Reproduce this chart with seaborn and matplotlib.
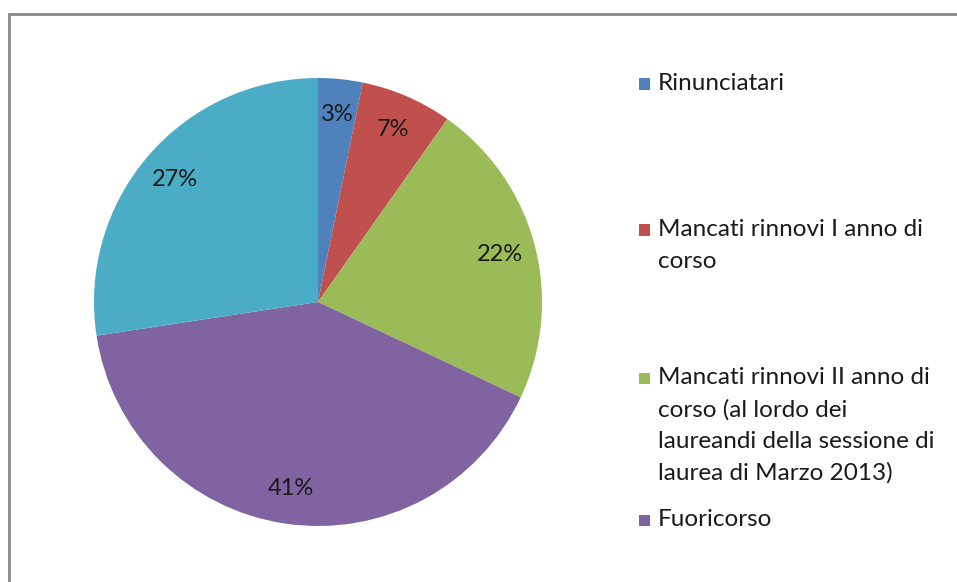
import matplotlib
matplotlib.use("Agg")
import matplotlib.pyplot as plt
import seaborn as sns
from matplotlib.patches import Rectangle
from matplotlib.lines import Line2D

# data (slice shares in %)
categories = [
    "Rinunciatari",
    "Mancati rinnovi I anno di\ncorso",
    "Mancati rinnovi II anno di\ncorso (al lordo dei\nlaureandi della sessione di\nlaurea di Marzo 2013)",
    "Fuoricorso",
    "",
]
values = [3.2, 6.6, 22.2, 40.6, 27.4]
colors = ["#4F81BD", "#C0504D", "#9BBB59", "#8064A2", "#4BACC6"]

sns.set_theme(style="white")
plt.rcParams["font.family"] = ["Lato", "DejaVu Sans"]

W, H = 957, 582
fig = plt.figure(figsize=(W / 100, H / 100), dpi=100)

# pie: centre (318, 302) px, radius 224 px
cx, cy, r = 318, 302, 224
ax = fig.add_axes([(cx - r) / W, (H - cy - r) / H, 2 * r / W, 2 * r / H])
wedges, _, autotexts = ax.pie(
    values, colors=colors, startangle=90, counterclock=False,
    autopct="%.0f%%", pctdistance=0.84,
    wedgeprops=dict(linewidth=0),
    textprops=dict(fontsize=17, color="#1a1a1a"),
)
ax.set_xlim(-1, 1)
ax.set_ylim(-1, 1)
ax.set_aspect("equal")
ax.axis("off")

# legend drawn by hand so the markers sit on the first line (Excel style)
legend_y = [84, 230, 378, 520]
line_h = 31.5
for i, ly in enumerate(legend_y):
    fig.patches.append(Rectangle((639 / W, (H - ly - 5.5) / H), 11 / W, 11 / H,
                                 transform=fig.transFigure, facecolor=colors[i],
                                 edgecolor="none"))
    for j, line in enumerate(categories[i].split("\n")):
        fig.text(658 / W, (H - ly - j * line_h) / H, line, fontsize=17.5,
                 color="#1a1a1a", va="center", ha="left")

# chart-area frame (only top and left edges are visible in the crop)
fig.lines.append(Line2D([9 / W, 9 / W], [0, 1 - 14 / H], transform=fig.transFigure,
                        color="#888888", linewidth=2))
fig.lines.append(Line2D([9 / W, 1], [1 - 14 / H, 1 - 14 / H], transform=fig.transFigure,
                        color="#888888", linewidth=2))

fig.savefig("out.png", dpi=100, facecolor="white")
